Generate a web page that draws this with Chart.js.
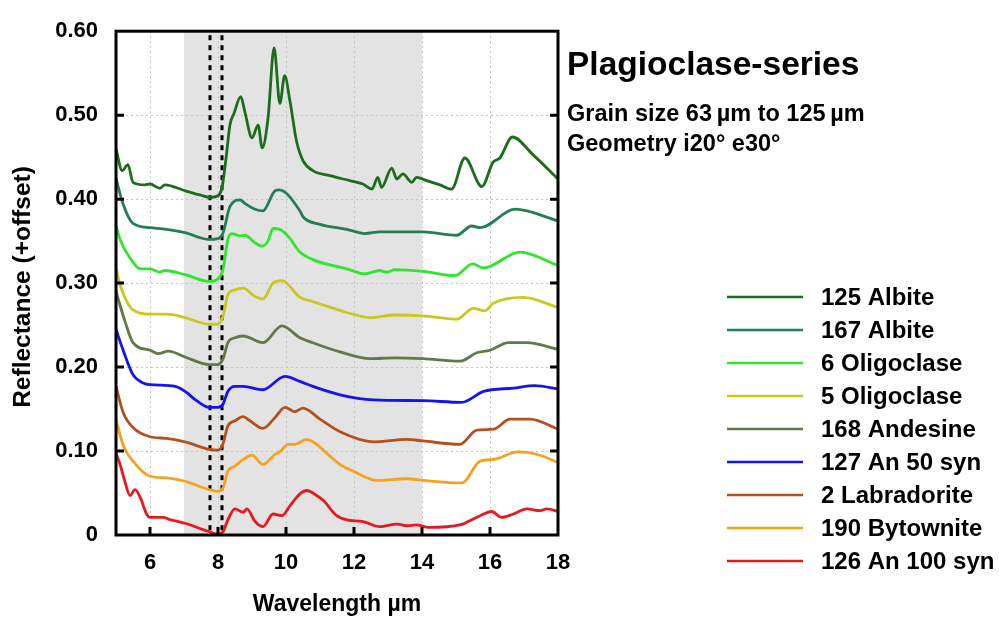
<!DOCTYPE html>
<html>
<head>
<meta charset="utf-8">
<script src="https://cdn.jsdelivr.net/npm/chart.js@4.4.1/dist/chart.umd.min.js"></script>
<style>
  html, body { margin: 0; padding: 0; background: #fff; }
</style>
</head>
<body>
<canvas id="spectraChart" width="999" height="618"></canvas>
<script>
// spectra: [wavelength µm, reflectance + offset]
var albite125 = [[5.00,0.460],[5.18,0.434],[5.35,0.441],[5.50,0.420],[5.85,0.417],[6.00,0.418],[6.29,0.413],[6.44,0.417],[7.03,0.410],[7.47,0.405],[7.76,0.402],[8.00,0.404],[8.12,0.414],[8.24,0.450],[8.35,0.488],[8.47,0.502],[8.67,0.522],[8.79,0.504],[9.00,0.473],[9.18,0.488],[9.30,0.461],[9.47,0.496],[9.65,0.580],[9.82,0.514],[9.96,0.547],[10.12,0.516],[10.31,0.469],[10.50,0.446],[10.79,0.434],[11.29,0.428],[11.88,0.422],[12.26,0.418],[12.53,0.412],[12.70,0.426],[12.81,0.414],[13.11,0.437],[13.26,0.424],[13.44,0.430],[13.70,0.420],[13.84,0.426],[14.14,0.422],[14.53,0.417],[14.87,0.412],[15.26,0.449],[15.76,0.415],[16.09,0.444],[16.29,0.449],[16.66,0.474],[17.26,0.453],[18.00,0.424]];
var albite167 = [[5.00,0.425],[5.20,0.395],[5.50,0.371],[6.00,0.366],[6.49,0.364],[7.03,0.360],[7.74,0.352],[8.00,0.353],[8.15,0.360],[8.35,0.391],[8.65,0.399],[8.79,0.395],[9.09,0.388],[9.32,0.386],[9.68,0.410],[9.80,0.411],[10.41,0.386],[10.50,0.379],[11.00,0.370],[11.79,0.364],[12.32,0.359],[12.76,0.361],[14.03,0.361],[15.02,0.357],[15.46,0.368],[15.71,0.366],[16.74,0.388],[18.00,0.374]];
var oligoclase6 = [[5.00,0.368],[5.12,0.352],[5.50,0.325],[5.71,0.317],[6.00,0.317],[6.29,0.313],[6.44,0.315],[7.03,0.310],[7.74,0.302],[8.00,0.305],[8.15,0.317],[8.29,0.352],[8.41,0.359],[8.65,0.356],[8.79,0.357],[9.09,0.348],[9.29,0.344],[9.47,0.350],[9.62,0.365],[9.82,0.364],[10.06,0.356],[10.41,0.337],[10.79,0.328],[11.79,0.317],[12.32,0.311],[12.76,0.315],[12.96,0.313],[13.21,0.316],[14.03,0.314],[14.97,0.309],[15.49,0.323],[15.81,0.318],[16.88,0.337],[18.00,0.321]];
var oligoclase5 = [[5.00,0.318],[5.12,0.298],[5.50,0.268],[6.00,0.263],[6.49,0.263],[7.03,0.259],[7.74,0.251],[8.00,0.251],[8.15,0.261],[8.29,0.286],[8.50,0.292],[8.74,0.294],[9.09,0.284],[9.32,0.281],[9.62,0.300],[9.88,0.303],[10.41,0.283],[10.79,0.278],[11.79,0.265],[12.47,0.259],[13.21,0.262],[14.03,0.261],[15.02,0.257],[15.51,0.270],[15.85,0.267],[16.10,0.276],[16.98,0.283],[18.00,0.271]];
var andesine168 = [[5.00,0.290],[5.26,0.255],[5.50,0.229],[6.00,0.220],[6.24,0.216],[6.54,0.219],[7.03,0.212],[7.74,0.203],[8.00,0.203],[8.15,0.210],[8.29,0.229],[8.50,0.235],[8.74,0.237],[9.32,0.229],[9.88,0.249],[10.41,0.235],[10.79,0.229],[11.59,0.218],[12.47,0.210],[13.21,0.211],[14.03,0.210],[15.12,0.207],[15.61,0.217],[16.00,0.220],[16.54,0.229],[17.08,0.229],[18.00,0.221]];
var an50syn127 = [[5.00,0.245],[5.21,0.220],[5.50,0.191],[5.80,0.181],[6.00,0.179],[6.74,0.177],[7.03,0.171],[7.37,0.160],[7.74,0.152],[8.00,0.152],[8.15,0.156],[8.29,0.171],[8.50,0.177],[8.74,0.177],[9.32,0.173],[9.97,0.189],[10.41,0.183],[10.79,0.177],[11.59,0.167],[12.57,0.161],[14.03,0.160],[15.17,0.158],[15.81,0.171],[16.69,0.175],[17.32,0.178],[18.00,0.174]];
var labradorite2 = [[5.00,0.177],[5.21,0.146],[5.50,0.128],[6.00,0.117],[6.49,0.115],[7.03,0.111],[7.74,0.102],[8.00,0.101],[8.15,0.109],[8.29,0.130],[8.50,0.136],[8.74,0.141],[8.94,0.136],[9.32,0.127],[9.68,0.140],[9.97,0.152],[10.26,0.147],[10.50,0.151],[11.00,0.138],[11.59,0.123],[12.57,0.111],[13.55,0.114],[14.03,0.112],[15.12,0.108],[15.61,0.125],[16.10,0.126],[16.59,0.138],[17.18,0.138],[18.00,0.126]];
var bytownite190 = [[5.00,0.138],[5.21,0.107],[5.50,0.088],[6.00,0.070],[6.49,0.068],[7.03,0.064],[7.74,0.054],[8.00,0.052],[8.15,0.056],[8.29,0.076],[8.50,0.082],[8.74,0.090],[9.00,0.095],[9.32,0.084],[9.68,0.096],[9.82,0.099],[10.06,0.108],[10.26,0.108],[10.61,0.114],[10.79,0.111],[11.59,0.084],[11.98,0.076],[12.67,0.065],[13.55,0.067],[14.03,0.065],[15.17,0.062],[15.71,0.088],[16.10,0.090],[16.83,0.099],[17.47,0.095],[18.00,0.086]];
var an100syn126 = [[5.00,0.097],[5.12,0.084],[5.26,0.064],[5.41,0.047],[5.56,0.054],[5.71,0.045],[5.90,0.025],[6.00,0.021],[6.39,0.021],[6.54,0.019],[7.03,0.014],[7.74,0.004],[8.00,0.001],[8.15,0.004],[8.29,0.018],[8.50,0.031],[8.74,0.027],[8.85,0.031],[9.09,0.016],[9.32,0.010],[9.62,0.025],[9.88,0.023],[10.12,0.035],[10.41,0.049],[10.61,0.053],[10.90,0.047],[11.10,0.041],[11.49,0.023],[11.79,0.018],[12.26,0.016],[12.76,0.010],[13.26,0.013],[13.55,0.011],[13.84,0.012],[14.19,0.009],[15.12,0.012],[15.36,0.016],[15.71,0.023],[16.05,0.028],[16.34,0.021],[16.69,0.025],[17.08,0.031],[17.47,0.029],[17.67,0.031],[18.00,0.028]];

var seriesNames = ['125 Albite', '167 Albite', '6 Oligoclase', '5 Oligoclase', '168 Andesine', '127 An 50 syn', '2 Labradorite', '190 Bytownite', '126 An 100 syn'];
var seriesData = [albite125, albite167, oligoclase6, oligoclase5, andesine168, an50syn127, labradorite2, bytownite190, an100syn126];
var seriesColors = ['#1a6e1a', '#257d55', '#2ee62e', '#c9c81e', '#63784a', '#1414ee', '#b5501c', '#f5a21e', '#e8191e'];

var xTicks = [6, 8, 10, 12, 14, 16, 18];
var yTicks = [0, 0.1, 0.2, 0.3, 0.4, 0.5, 0.6];
var yTickLabels = ['0', '0.10', '0.20', '0.30', '0.40', '0.50', '0.60'];
var shadedRange = [7, 14];
var markerLines = [7.75, 8.13];

var FONT = '"Liberation Sans", Arial, Helvetica, sans-serif';

// gray band under the grid, dotted markers, frame, legend and captions
var decorPlugin = {
    id: 'decor',
    beforeDraw: function (chart) {
        var ctx = chart.ctx, a = chart.chartArea, xs = chart.scales.x;
        ctx.save();
        ctx.fillStyle = '#e3e3e3';
        var x0 = xs.getPixelForValue(shadedRange[0]);
        var x1 = xs.getPixelForValue(shadedRange[1]);
        ctx.fillRect(x0, a.top, x1 - x0, a.bottom - a.top);
        ctx.restore();
    },
    beforeDatasetsDraw: function (chart) {
        var ctx = chart.ctx, a = chart.chartArea, xs = chart.scales.x;
        ctx.save();
        ctx.strokeStyle = '#000';
        ctx.lineWidth = 3;
        ctx.setLineDash([5, 5]);
        markerLines.forEach(function (v) {
            var px = Math.round(xs.getPixelForValue(v));
            ctx.beginPath();
            ctx.moveTo(px, a.top + 4);
            ctx.lineTo(px, a.bottom);
            ctx.stroke();
        });
        ctx.restore();
    },
    afterDraw: function (chart) {
        var ctx = chart.ctx, a = chart.chartArea, xs = chart.scales.x, ys = chart.scales.y;
        ctx.save();
        // frame
        ctx.strokeStyle = '#000';
        ctx.lineWidth = 3;
        ctx.strokeRect(a.left, a.top, a.right - a.left, a.bottom - a.top);
        // inward ticks
        ctx.beginPath();
        yTicks.forEach(function (v) {
            if (v <= 0 || v >= 0.6) return;
            var py = ys.getPixelForValue(v);
            ctx.moveTo(a.left, py); ctx.lineTo(a.left + 8, py);
            ctx.moveTo(a.right, py); ctx.lineTo(a.right - 8, py);
        });
        xTicks.forEach(function (v) {
            if (v >= 18) return;
            var px = xs.getPixelForValue(v);
            ctx.moveTo(px, a.bottom); ctx.lineTo(px, a.bottom - 8);
        });
        ctx.stroke();

        // y axis title
        ctx.fillStyle = '#000';
        ctx.font = 'bold 24.5px ' + FONT;
        ctx.textAlign = 'center';
        ctx.textBaseline = 'middle';
        ctx.translate(23, 287);
        ctx.rotate(-Math.PI / 2);
        ctx.fillText('Reflectance (+offset)', 0, 0);
        ctx.setTransform(1, 0, 0, 1, 0, 0);
        ctx.restore();

        ctx.save();
        ctx.fillStyle = '#000';
        ctx.textAlign = 'left';
        ctx.textBaseline = 'alphabetic';
        ctx.font = 'bold 33.5px ' + FONT;
        ctx.fillText('Plagioclase-series', 567, 75);
        ctx.font = 'bold 23.5px ' + FONT;
        ctx.fillText('Grain size 63\u2009\u00b5m to 125\u2009\u00b5m', 567, 121);
        ctx.fillText('Geometry i20\u00b0 e30\u00b0', 567, 151);

        // legend
        ctx.font = 'bold 24px ' + FONT;
        ctx.textBaseline = 'middle';
        chart.data.datasets.forEach(function (ds, i) {
            var y = 297 + i * 33;
            ctx.strokeStyle = ds.borderColor;
            ctx.lineWidth = 2.5;
            ctx.beginPath();
            ctx.moveTo(727, y);
            ctx.lineTo(803, y);
            ctx.stroke();
            ctx.fillStyle = '#000';
            ctx.fillText(ds.label, 821, y + 1);
        });
        ctx.restore();
    }
};

var datasets = seriesNames.map(function (name, i) {
    return {
        label: name,
        data: seriesData[i].map(function (p) { return { x: p[0], y: p[1] }; }),
        borderColor: seriesColors[i],
        borderWidth: 2.8,
        pointRadius: 0,
        fill: false,
        cubicInterpolationMode: 'monotone'
    };
});

var spectraChart = new Chart(document.getElementById('spectraChart'), {
    type: 'line',
    data: { datasets: datasets },
    options: {
        responsive: false,
        animation: false,
        devicePixelRatio: 1,
        layout: { padding: { top: 21, right: 441, left: 0, bottom: 0 } },
        plugins: { legend: { display: false }, tooltip: { enabled: false } },
        scales: {
            x: {
                type: 'linear',
                min: 5,
                max: 18,
                afterBuildTicks: function (s) { s.ticks = xTicks.map(function (v) { return { value: v }; }); },
                afterFit: function (s) { s.height = 83; },
                grid: { color: '#c4c4c4', lineWidth: 1, drawTicks: false },
                border: { display: false, dash: [2, 3] },
                ticks: {
                    color: '#000',
                    padding: 15,
                    maxRotation: 0,
                    font: { family: FONT, size: 22, weight: 'bold' },
                    callback: function (v) { return String(v); }
                },
                title: {
                    display: true,
                    text: 'Wavelength \u00b5m',
                    color: '#000',
                    font: { family: FONT, size: 23, weight: 'bold' },
                    padding: { top: 0, bottom: 0 }
                }
            },
            y: {
                type: 'linear',
                min: 0,
                max: 0.6,
                afterBuildTicks: function (s) { s.ticks = yTicks.map(function (v) { return { value: v }; }); },
                afterFit: function (s) { s.width = 116; },
                grid: { color: '#c4c4c4', lineWidth: 1, drawTicks: false },
                border: { display: false, dash: [2, 3] },
                ticks: {
                    color: '#000',
                    padding: 18,
                    font: { family: FONT, size: 22, weight: 'bold' },
                    callback: function (v) {
                        var idx = yTicks.findIndex(function (t) { return Math.abs(t - v) < 1e-9; });
                        return idx >= 0 ? yTickLabels[idx] : '';
                    }
                }
            }
        }
    },
    plugins: [decorPlugin]
});
</script>
</body>
</html>
